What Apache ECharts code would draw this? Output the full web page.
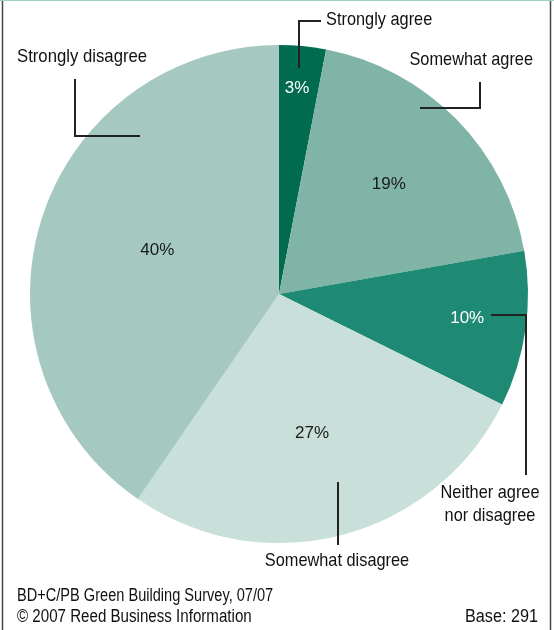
<!DOCTYPE html>
<html>
<head>
<meta charset="utf-8">
<script src="https://cdn.jsdelivr.net/npm/echarts@6/dist/echarts.min.js"></script>
<style>
html,body{margin:0;padding:0;background:#fff;}
#chart{width:554px;height:630px;}
</style>
</head>
<body>
<div id="chart"></div>
<script>
// ---- data ----
const categories = ['Strongly agree', 'Somewhat agree', 'Neither agree nor disagree', 'Somewhat disagree', 'Strongly disagree'];
const values = [3, 19, 10, 27, 40];
const sourceLines = ['BD+C/PB Green Building Survey, 07/07', '\u00A9 2007 Reed Business Information'];
const baseText = 'Base: 291';

// ---- styles ----
const FONT = "'Liberation Sans', Arial, sans-serif";
const sliceColors = ['#006b4f', '#80b4a7', '#1e8a74', '#c8dfda', '#a5c9c0'];
const labelColors = ['#ffffff', '#1a1a1a', '#ffffff', '#1a1a1a', '#1a1a1a'];
const labelNudges = [[6, -79], [19, -20], [62, 6], [1, 16], [0, -6]];

const chart = echarts.init(document.getElementById('chart'), null, {renderer: 'canvas'});

const pieData = categories.map((c, i) => ({
  name: c,
  value: values[i],
  itemStyle: {color: sliceColors[i]},
  label: {color: labelColors[i]}
}));

const lineStyle = {stroke: '#222', lineWidth: 2};
function poly(points) {
  return {type: 'polyline', shape: {points: points}, style: Object.assign({fill: null}, lineStyle), silent: true, z: 10};
}
function txt(text, x, y, align, size, sx) {
  return {type: 'text', x: x, y: y, scaleX: sx || 0.86, silent: true, z: 10,
    style: {text: text, fill: '#111', fontSize: size || 19, fontFamily: FONT,
      align: align, verticalAlign: 'middle', textAlign: align, textVerticalAlign: 'middle'}};
}

const option = {
  animation: false,
  backgroundColor: '#ffffff',
  series: [{
    type: 'pie',
    center: [279, 294],
    radius: 249,
    startAngle: 90,
    clockwise: true,
    avoidLabelOverlap: false,
    emphasis: {disabled: true},
    label: {show: true, position: 'inside', formatter: '{c}%', fontSize: 17, fontFamily: FONT},
    labelLine: {show: false},
    labelLayout: function (p) {
      const n = labelNudges[p.dataIndex];
      return {dx: n[0], dy: n[1]};
    },
    data: pieData
  }],
  graphic: [
    // frame
    {type: 'line', shape: {x1: 0, y1: 0.5, x2: 554, y2: 0.5}, style: {stroke: '#9fcfc4', lineWidth: 1}, silent: true},
    {type: 'line', shape: {x1: 2.5, y1: 1, x2: 2.5, y2: 630}, style: {stroke: '#444', lineWidth: 1.5}, silent: true},
    {type: 'line', shape: {x1: 550.5, y1: 1, x2: 550.5, y2: 630}, style: {stroke: '#444', lineWidth: 1.5}, silent: true},
    // leader lines
    poly([[299, 68], [299, 21], [321, 21]]),
    poly([[420, 108], [480, 108], [480, 82]]),
    poly([[75, 79], [75, 136], [140, 136]]),
    poly([[491, 315], [526, 315], [526, 475]]),
    poly([[338, 482], [338, 545]]),
    // outer labels
    txt(categories[0], 326, 20, 'left'),
    txt(categories[1], 533, 60, 'right'),
    txt(categories[4], 17, 57, 'left', 19, 0.88),
    txt('Neither agree', 490, 493, 'center'),
    txt('nor disagree', 490, 516, 'center'),
    txt(categories[3], 337, 561, 'center'),
    // footer
    txt(sourceLines[0], 17, 596, 'left', 18, 0.81),
    txt(sourceLines[1], 17, 617, 'left', 18, 0.84),
    txt(baseText, 538, 617, 'right', 18, 0.9)
  ]
};
chart.setOption(option);
</script>
</body>
</html>
